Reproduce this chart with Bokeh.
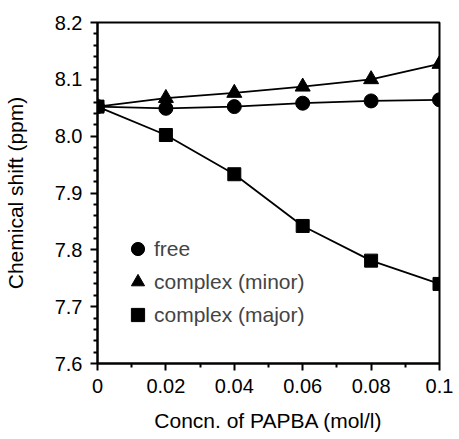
from bokeh.plotting import figure
from bokeh.models import FixedTicker, Legend, LegendItem
from bokeh.embed import file_html
from bokeh.resources import INLINE

conc = [0, 0.02, 0.04, 0.06, 0.08, 0.1]
free = [8.052, 8.049, 8.052, 8.058, 8.062, 8.064]
minor = [8.052, 8.067, 8.076, 8.087, 8.100, 8.127]
major = [8.052, 8.002, 7.933, 7.842, 7.781, 7.740]

x_ticks = [0, 0.02, 0.04, 0.06, 0.08, 0.1]
x_labels = ["0", "0.02", "0.04", "0.06", "0.08", "0.1"]
x_minor = [0.01, 0.03, 0.05, 0.07, 0.09]
y_ticks = [7.6, 7.7, 7.8, 7.9, 8.0, 8.1, 8.2]
y_labels = ["7.6", "7.7", "7.8", "7.9", "8.0", "8.1", "8.2"]
y_minor = [7.62, 7.64, 7.66, 7.68, 7.72, 7.74, 7.76, 7.78, 7.82, 7.84, 7.86, 7.88,
           7.92, 7.94, 7.96, 7.98, 8.02, 8.04, 8.06, 8.08, 8.12, 8.14, 8.16, 8.18]

FONT = "Liberation Sans"

p = figure(width=459, height=439, output_backend="svg", toolbar_location=None,
           x_range=(0, 0.1), y_range=(7.6, 8.2),
           min_border_left=97, min_border_right=20, min_border_top=22, min_border_bottom=76)
p.background_fill_color = "white"
p.border_fill_color = "white"
p.xgrid.visible = False
p.ygrid.visible = False
p.outline_line_color = "black"
p.outline_line_width = 2

p.xaxis.ticker = FixedTicker(ticks=x_ticks, minor_ticks=x_minor)
p.yaxis.ticker = FixedTicker(ticks=y_ticks, minor_ticks=y_minor)
p.xaxis.major_label_overrides = {t: l for t, l in zip(x_ticks, x_labels)}
p.yaxis.major_label_overrides = {t: l for t, l in zip(y_ticks, y_labels)}

for ax in (p.xaxis[0], p.yaxis[0]):
    ax.axis_line_width = 2
    ax.axis_line_color = "black"
    ax.major_tick_line_width = 2
    ax.major_tick_line_color = "black"
    ax.minor_tick_line_width = 2
    ax.minor_tick_line_color = "black"
    ax.major_tick_in = 0
    ax.major_tick_out = 7
    ax.minor_tick_in = 0
    ax.minor_tick_out = 4
    ax.major_label_text_font = FONT
    ax.major_label_text_font_size = "20px"
    ax.major_label_text_color = "black"
    ax.axis_label_text_font = FONT
    ax.axis_label_text_font_size = "21px"
    ax.axis_label_text_font_style = "normal"
    ax.axis_label_text_color = "black"

p.xaxis.axis_label = "Concn. of PAPBA (mol/l)"
p.yaxis.axis_label = "Chemical shift (ppm)"
p.xaxis.major_label_standoff = 8
p.xaxis.axis_label_standoff = 13
p.yaxis.major_label_standoff = 8
p.yaxis.axis_label_standoff = 25

p.line(conc, free, line_color="black", line_width=1.8)
p.line(conc, minor, line_color="black", line_width=1.8)
p.line(conc, major, line_color="black", line_width=1.8)
r1 = p.scatter(conc, free, marker="circle", size=14, fill_color="black", line_color="black")
r2 = p.scatter(conc, minor, marker="triangle", size=15, fill_color="black", line_color="black")
r3 = p.scatter(conc, major, marker="square", size=13, fill_color="black", line_color="black")

legend = Legend(items=[LegendItem(label="free", renderers=[r1]),
                       LegendItem(label="complex (minor)", renderers=[r2]),
                       LegendItem(label="complex (major)", renderers=[r3])],
                location=(24, 32), glyph_width=33, glyph_height=33, spacing=0,
                label_standoff=0, padding=0, margin=0,
                border_line_color=None, background_fill_alpha=0,
                label_text_font=FONT, label_text_font_size="21px")
p.add_layout(legend, "center")

open("out.html", "w").write(file_html(p, INLINE))
